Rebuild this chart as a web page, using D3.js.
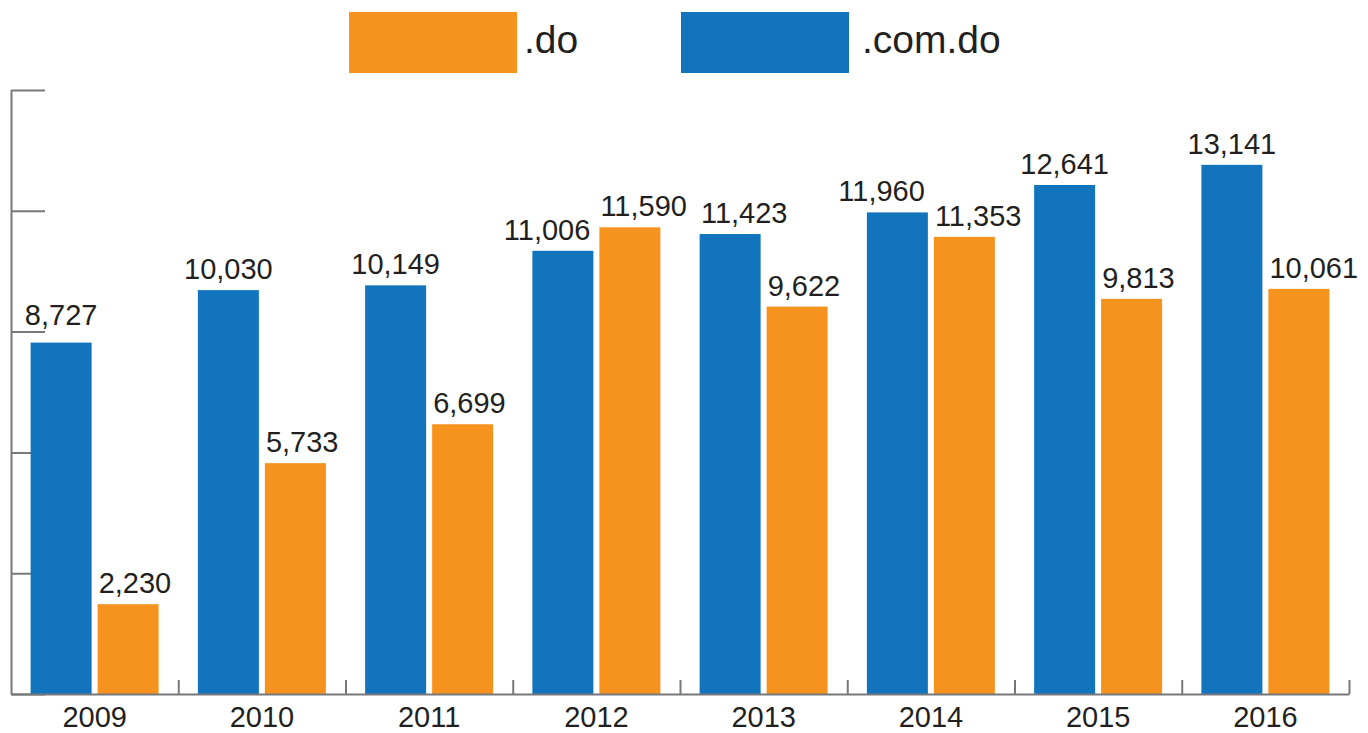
<!DOCTYPE html>
<html>
<head>
<meta charset="utf-8">
<script src="https://cdn.jsdelivr.net/npm/d3@7"></script>
<style>
  body { margin: 0; background: #fff; }
  svg text { font-family: "Liberation Sans", Arial, Helvetica, sans-serif; fill: #231f20; }
  .axis path, .axis line { stroke: #77787b; stroke-width: 2; }
</style>
</head>
<body>
<svg id="chart" width="1368" height="733"></svg>
<script>
// data
let years = ["2009", "2010", "2011", "2012", "2013", "2014", "2015", "2016"]
let comDo = [8727, 10030, 10149, 11006, 11423, 11960, 12641, 13141]
let dotDo = [2230, 5733, 6699, 11590, 9622, 11353, 9813, 10061]
let yTicks = [0, 3000, 6000, 9000, 12000, 15000]

let series = [
    { key: "com", name: ".com.do", color: "#1174bc", values: comDo },
    { key: "do",  name: ".do",     color: "#f6921e", values: dotDo }
]
let legendOrder = ["do", "com"]

let svg = d3.select("#chart")
let fmt = d3.format(",")

let x = d3.scaleBand()
    .domain(years)
    .range([11, 1349])
    .paddingInner(0)

let xSub = d3.scaleBand()
    .domain(series.map(s => s.key))
    .range([0, x.bandwidth()])
    .paddingInner(0.0896)
    .paddingOuter(0.293)

let y = d3.scaleLinear()
    .domain([0, 15000])
    .range([694, 90])

// y axis: line with short ticks pointing right, no labels
svg.append("g")
    .attr("class", "axis")
    .attr("transform", "translate(11,0)")
    .call(d3.axisRight(y).tickValues(yTicks).tickSize(34).tickSizeOuter(0).tickFormat(""))

// bars
let rows = years.map((yr, i) => ({ year: yr, i: i }))
let groups = svg.selectAll(".grp")
    .data(rows)
    .enter()
    .append("g")
        .attr("class", "grp")
        .attr("transform", d => `translate(${x(d.year)},0)`)

series.forEach(s => {
    groups.append("rect")
        .attr("x", xSub(s.key))
        .attr("width", xSub.bandwidth())
        .attr("y", d => y(s.values[d.i]))
        .attr("height", d => y(0) - y(s.values[d.i]))
        .attr("fill", s.color)
})

// x axis: baseline with upward ticks at band boundaries
let xb = d3.scaleLinear().domain([0, years.length]).range(x.range())
svg.append("g")
    .attr("class", "axis")
    .attr("transform", `translate(0,${y(0)})`)
    .call(d3.axisTop(xb).tickValues(d3.range(1, years.length + 1)).tickSize(14).tickSizeOuter(0).tickFormat(""))

svg.append("g")
    .attr("transform", `translate(0,${y(0)})`)
    .call(d3.axisBottom(x).tickSize(0).tickPadding(0))
    .call(g => g.select(".domain").remove())
    .call(g => g.selectAll("text").style("font-size", "29px").attr("y", 33).attr("dy", null))

// value labels; orange start at bar edge, blue centred and nudged off neighbours
let labels = svg.append("g")
let placed = []
years.forEach((yr, i) => {
    let ox = x(yr) + xSub("do") + 1
    let oy = y(dotDo[i]) - 11
    let ot = labels.append("text").attr("x", ox).attr("y", oy)
        .style("font-size", "29px").text(fmt(dotDo[i]))
    let ow = ot.node().getComputedTextLength()

    let bx = x(yr) + xSub("com") + xSub.bandwidth() / 2
    let by = y(comDo[i]) - 11
    let bt = labels.append("text").style("font-size", "29px").text(fmt(comDo[i]))
    let bw = bt.node().getComputedTextLength()
    let left = bx - bw / 2

    // previous group's orange label
    let prev = placed[placed.length - 1]
    if (prev && Math.abs(prev.y - by) < 30 && left < prev.right + 10) left = prev.right + 14
    // own orange label
    if (Math.abs(oy - by) < 30 && left + bw > ox - 10) left = ox - 10 - bw
    // keep clear of y axis ticks
    yTicks.forEach(t => {
        let ty = y(t)
        if (left < 45 && ty > by - 22 && ty < by + 4) by = ty - 7
    })
    bt.attr("x", left).attr("y", by)
    placed.push({ right: ox + ow, y: oy })
})

// legend
let legend = svg.append("g")
let legX = { do: 349, com: 681 }
legendOrder.forEach(k => {
    let s = series.find(d => d.key === k)
    legend.append("rect")
        .attr("x", legX[k]).attr("y", 12)
        .attr("width", 168).attr("height", 61)
        .attr("fill", s.color)
    legend.append("text")
        .attr("x", legX[k] + 168 + (k === "do" ? 7 : 13))
        .attr("y", 53)
        .style("font-size", "39px")
        .text(s.name)
})
</script>
</body>
</html>
